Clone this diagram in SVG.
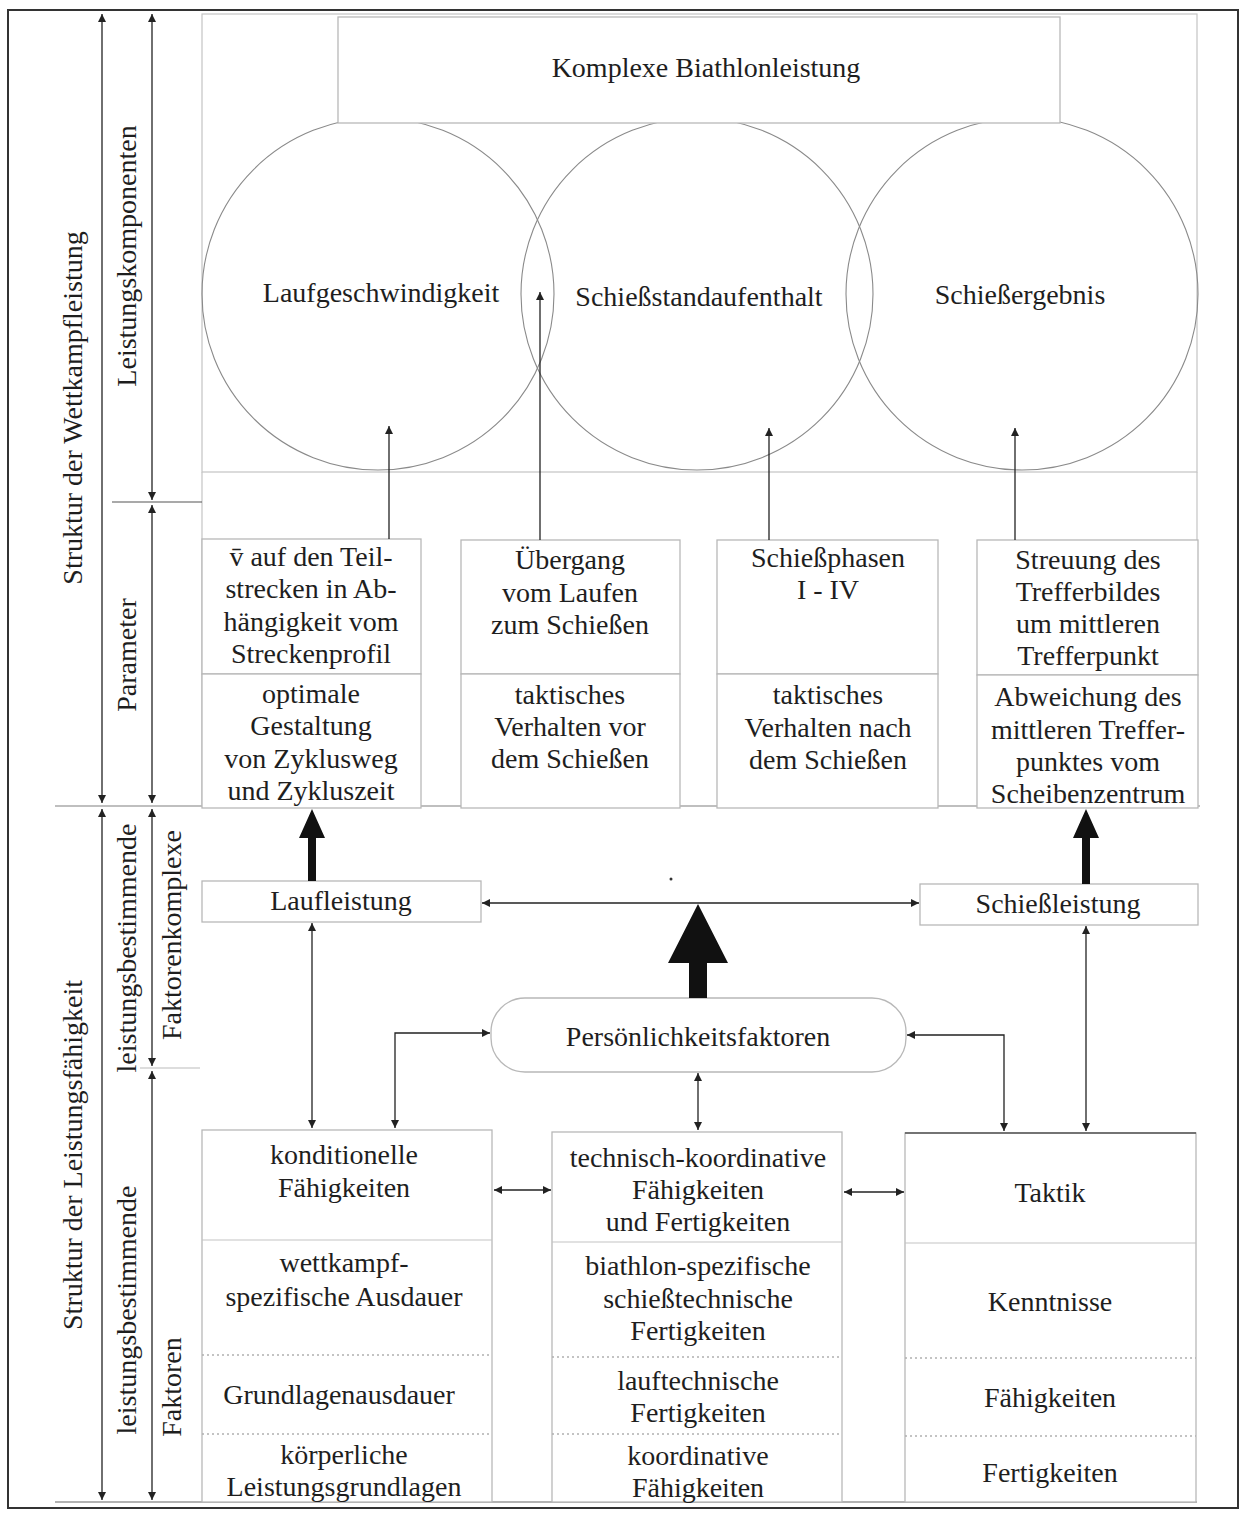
<svg xmlns="http://www.w3.org/2000/svg" width="1246" height="1513" viewBox="0 0 1246 1513">
<style>
.t{font-family:"Liberation Serif","Times New Roman",serif;font-size:28px;fill:#1e1e1e;text-anchor:middle}
.box{fill:#fff;stroke:#b8b8b8;stroke-width:1.3}
.lt{fill:none;stroke:#c4c4c4;stroke-width:1.2}
.dot{fill:none;stroke:#b0b0b0;stroke-width:1.5;stroke-dasharray:2 3}
.cir{fill:none;stroke:#8a8a8a;stroke-width:1.1}
.c{fill:none;stroke:#222;stroke-width:1.3;marker-end:url(#ah)}
.c2{fill:none;stroke:#222;stroke-width:1.3;marker-end:url(#ah);marker-start:url(#ah)}
.thick{fill:#111}
</style>
<defs>
<marker id="ah" viewBox="0 0 10 10" refX="10" refY="5" markerWidth="9" markerHeight="8" markerUnits="userSpaceOnUse" orient="auto-start-reverse"><path d="M0,0 L10,5 L0,10 z" fill="#222"/></marker>
</defs>
<rect width="1246" height="1513" fill="#fff"/>
<rect x="8" y="10" width="1230" height="1498" fill="none" stroke="#333" stroke-width="2"/>

<g id="frame">
<rect x="202" y="14" width="995" height="458" class="lt"/>
<line x1="202" y1="472" x2="202" y2="805" class="lt"/>
<line x1="1197" y1="472" x2="1197" y2="808" class="lt"/>
<line x1="55" y1="806" x2="1200" y2="806" stroke="#aaa" stroke-width="1.3"/>
<line x1="55" y1="1502" x2="1197" y2="1502" stroke="#999" stroke-width="1.3"/>
<line x1="112" y1="502" x2="202" y2="502" stroke="#555" stroke-width="1.2"/>
<line x1="140" y1="1068" x2="200" y2="1068" stroke="#bbb" stroke-width="1.2"/>
</g>

<g id="dimension-labels">
<text class="t" transform="translate(82,408) rotate(-90)">Struktur der Wettkampfleistung</text>
<text class="t" transform="translate(136,256) rotate(-90)">Leistungskomponenten</text>
<text class="t" transform="translate(136,655) rotate(-90)">Parameter</text>
<text class="t" transform="translate(82,1155) rotate(-90)">Struktur der Leistungsfähigkeit</text>
<text class="t" transform="translate(136,948) rotate(-90)">leistungsbestimmende</text>
<text class="t" transform="translate(181,935) rotate(-90)">Faktorenkomplexe</text>
<text class="t" transform="translate(136,1310) rotate(-90)">leistungsbestimmende</text>
<text class="t" transform="translate(181,1387) rotate(-90)">Faktoren</text>
</g>

<g id="circles">
<circle cx="378" cy="294" r="176" class="cir"/>
<circle cx="697" cy="294" r="176" class="cir"/>
<circle cx="1022" cy="294" r="176" class="cir"/>
</g>

<g id="komplexe">
<rect x="338" y="17" width="722" height="106" class="box"/>
<text class="t" x="706" y="77">Komplexe Biathlonleistung</text>
</g>
<g id="laufgeschwindigkeit"><text class="t" x="381" y="302">Laufgeschwindigkeit</text></g>
<g id="schiessstandaufenthalt"><text class="t" x="699" y="306">Schießstandaufenthalt</text></g>
<g id="schiessergebnis"><text class="t" x="1020" y="304">Schießergebnis</text></g>

<g id="param-a">
<rect x="202" y="539" width="219" height="135" class="box"/>
<rect x="202" y="674" width="219" height="134" class="box"/>
<text class="t" x="311" y="566">v̄ auf den Teil-</text>
<text class="t" x="311" y="598">strecken in Ab-</text>
<text class="t" x="311" y="631">hängigkeit vom</text>
<text class="t" x="311" y="663">Streckenprofil</text>
<text class="t" x="311" y="703">optimale</text>
<text class="t" x="311" y="735">Gestaltung</text>
<text class="t" x="311" y="768">von Zyklusweg</text>
<text class="t" x="311" y="800">und Zykluszeit</text>
</g>
<g id="param-b">
<rect x="461" y="540" width="219" height="134" class="box"/>
<rect x="461" y="674" width="219" height="134" class="box"/>
<text class="t" x="570" y="569">Übergang</text>
<text class="t" x="570" y="602">vom Laufen</text>
<text class="t" x="570" y="634">zum Schießen</text>
<text class="t" x="570" y="704">taktisches</text>
<text class="t" x="570" y="736">Verhalten vor</text>
<text class="t" x="570" y="768">dem Schießen</text>
</g>
<g id="param-c">
<rect x="717" y="540" width="221" height="134" class="box"/>
<rect x="717" y="674" width="221" height="134" class="box"/>
<text class="t" x="828" y="567">Schießphasen</text>
<text class="t" x="828" y="599">I - IV</text>
<text class="t" x="828" y="704">taktisches</text>
<text class="t" x="828" y="737">Verhalten nach</text>
<text class="t" x="828" y="769">dem Schießen</text>
</g>
<g id="param-d">
<rect x="977" y="540" width="221" height="135" class="box"/>
<rect x="977" y="675" width="221" height="133" class="box"/>
<text class="t" x="1088" y="569">Streuung des</text>
<text class="t" x="1088" y="601">Trefferbildes</text>
<text class="t" x="1088" y="633">um mittleren</text>
<text class="t" x="1088" y="665">Trefferpunkt</text>
<text class="t" x="1088" y="706">Abweichung des</text>
<text class="t" x="1088" y="739">mittleren Treffer-</text>
<text class="t" x="1088" y="771">punktes vom</text>
<text class="t" x="1088" y="803">Scheibenzentrum</text>
</g>

<g id="laufleistung">
<rect x="202" y="881" width="279" height="41" class="box"/>
<text class="t" x="341" y="910">Laufleistung</text>
</g>
<g id="schiessleistung">
<rect x="920" y="884" width="278" height="41" class="box"/>
<text class="t" x="1058" y="913">Schießleistung</text>
</g>
<g id="persoenlichkeit">
<rect x="491" y="998" width="415" height="74" rx="34" ry="34" class="box"/>
<text class="t" x="698" y="1046">Persönlichkeitsfaktoren</text>
</g>

<g id="konditionelle">
<rect x="202" y="1130" width="290" height="372" class="box"/>
<line x1="202" y1="1240" x2="492" y2="1240" class="lt"/>
<line x1="202" y1="1355" x2="492" y2="1355" class="dot"/>
<line x1="202" y1="1434" x2="492" y2="1434" class="dot"/>
<text class="t" x="344" y="1164">konditionelle</text>
<text class="t" x="344" y="1197">Fähigkeiten</text>
<text class="t" x="344" y="1272">wettkampf-</text>
<text class="t" x="344" y="1306">spezifische Ausdauer</text>
<text class="t" x="339" y="1404">Grundlagenausdauer</text>
<text class="t" x="344" y="1464">körperliche</text>
<text class="t" x="344" y="1496">Leistungsgrundlagen</text>
</g>
<g id="technisch">
<rect x="552" y="1132" width="290" height="370" class="box"/>
<line x1="552" y1="1242" x2="842" y2="1242" class="lt"/>
<line x1="552" y1="1357" x2="842" y2="1357" class="dot"/>
<line x1="552" y1="1434" x2="842" y2="1434" class="dot"/>
<text class="t" x="698" y="1167">technisch-koordinative</text>
<text class="t" x="698" y="1199">Fähigkeiten</text>
<text class="t" x="698" y="1231">und Fertigkeiten</text>
<text class="t" x="698" y="1275">biathlon-spezifische</text>
<text class="t" x="698" y="1308">schießtechnische</text>
<text class="t" x="698" y="1340">Fertigkeiten</text>
<text class="t" x="698" y="1390">lauftechnische</text>
<text class="t" x="698" y="1422">Fertigkeiten</text>
<text class="t" x="698" y="1465">koordinative</text>
<text class="t" x="698" y="1497">Fähigkeiten</text>
</g>
<g id="taktik">
<rect x="905" y="1133" width="291" height="369" class="box"/>
<line x1="905" y1="1133" x2="1196" y2="1133" stroke="#555" stroke-width="1.5"/>
<line x1="905" y1="1243" x2="1196" y2="1243" class="lt"/>
<line x1="905" y1="1358" x2="1196" y2="1358" class="dot"/>
<line x1="905" y1="1436" x2="1196" y2="1436" class="dot"/>
<text class="t" x="1050" y="1202">Taktik</text>
<text class="t" x="1050" y="1311">Kenntnisse</text>
<text class="t" x="1050" y="1407">Fähigkeiten</text>
<text class="t" x="1050" y="1482">Fertigkeiten</text>
</g>

<g id="connectors">
<line x1="102" y1="402" x2="102" y2="14" class="c"/>
<line x1="102" y1="402" x2="102" y2="803" class="c"/>
<line x1="102" y1="1150" x2="102" y2="809" class="c"/>
<line x1="102" y1="1150" x2="102" y2="1500" class="c"/>
<line x1="152" y1="260" x2="152" y2="14" class="c"/>
<line x1="152" y1="260" x2="152" y2="500" class="c"/>
<line x1="152" y1="650" x2="152" y2="505" class="c"/>
<line x1="152" y1="650" x2="152" y2="803" class="c"/>
<line x1="152" y1="940" x2="152" y2="809" class="c"/>
<line x1="152" y1="940" x2="152" y2="1066" class="c"/>
<line x1="152" y1="1300" x2="152" y2="1071" class="c"/>
<line x1="152" y1="1300" x2="152" y2="1500" class="c"/>

<line x1="389" y1="539" x2="389" y2="426" class="c"/>
<line x1="540" y1="540" x2="540" y2="292" class="c"/>
<line x1="769" y1="540" x2="769" y2="428" class="c"/>
<line x1="1015" y1="540" x2="1015" y2="428" class="c"/>

<polygon class="thick" points="308,881 308,838 299,838 312,809 325,838 316,838 316,881"/>
<polygon class="thick" points="1082,884 1082,838 1073,838 1086,809 1099,838 1090,838 1090,884"/>
<polygon class="thick" points="689,998 689,963 668,963 698,904 728,963 707,963 707,998"/>

<line x1="482" y1="903" x2="919" y2="903" class="c2"/>
<line x1="312" y1="923" x2="312" y2="1128" class="c2"/>
<path d="M395,1128 V1033 H490" class="c2"/>
<line x1="698" y1="1073" x2="698" y2="1130" class="c2"/>
<path d="M907,1035 H1004 V1131" class="c2"/>
<line x1="1086" y1="926" x2="1086" y2="1131" class="c2"/>
<line x1="494" y1="1190" x2="551" y2="1190" class="c2"/>
<line x1="844" y1="1192" x2="904" y2="1192" class="c2"/>
<circle cx="671" cy="879" r="1.5" fill="#333"/>
</g>
</svg>
